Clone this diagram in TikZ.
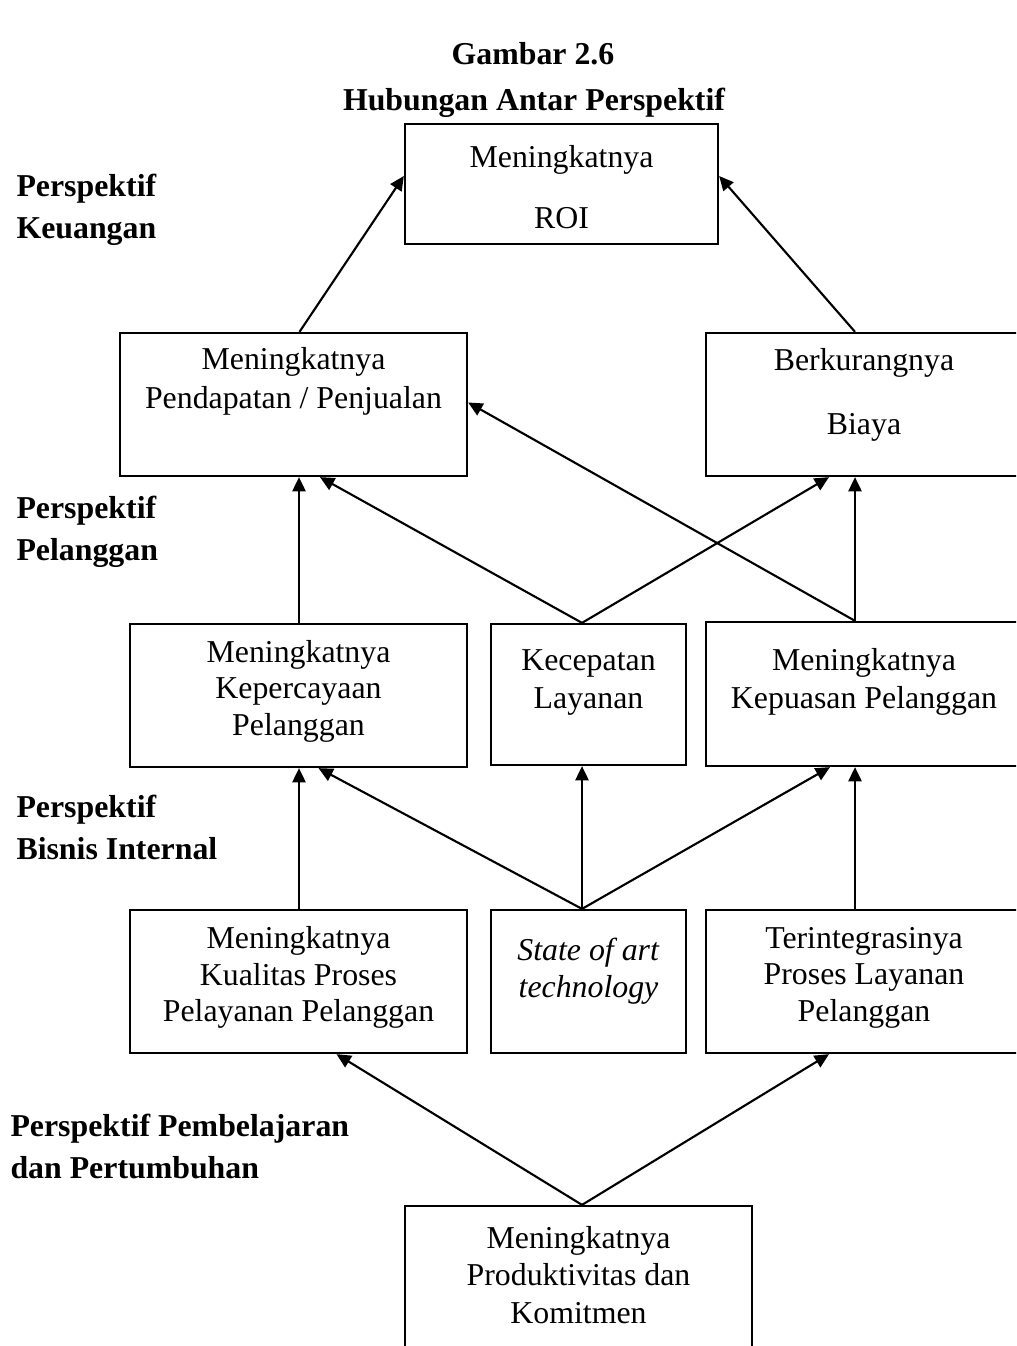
\documentclass[tikz,border=0pt]{standalone}
\usepackage{fontspec}
\setmainfont{Liberation Serif}
\usetikzlibrary{arrows.meta,calc}

\begin{document}
\begin{tikzpicture}[x=0.377pt,y=-0.377pt]
    \tikzset{%
      kotak/.style 2 args={draw, line width=0.85pt, inner sep=0pt,
        minimum width=#1*0.377pt, minimum height=#2*0.377pt},
      teks/.style={align=center, inner sep=0pt,
        font=\fontsize{12}{13.8}\selectfont},
      renggang/.style={align=center, inner sep=0pt,
        font=\fontsize{12}{#1}\selectfont},
      judul/.style={inner sep=0pt, font=\bfseries\fontsize{12}{14}\selectfont},
      persp/.style={anchor=west, align=left, inner sep=0pt,
        font=\bfseries\fontsize{12}{15.8}\selectfont},
      panah/.style={-{Triangle[length=5.4pt,width=5pt]}, line width=0.8pt},
    }
    \useasboundingbox (0,0) rectangle (1016,1346);
    \clip (0,0) rectangle (1016,1346);

    % judul
    \node[judul] (gambar) at (533,54) {Gambar 2.6};
    \node[judul] (hubungan) at (534,103) {Hubungan Antar Perspektif};

    % perspektif di kiri
    \node[persp] (keuangan) at (16,210) {Perspektif\\Keuangan};
    \node[persp] (pelanggan) at (16,532) {Perspektif\\Pelanggan};
    \node[persp] (bisnis) at (16,827.5) {Perspektif\\Bisnis Internal};
    \node[persp] (belajar) at (10,1146.5) {Perspektif Pembelajaran\\dan Pertumbuhan};

    % keuangan
    \node[kotak={313}{120}] (roi) at (561.5,184) {};
    \node[renggang=23] (roiT) at (561.5,187.5) {Meningkatnya\\ROI};
    \node[kotak={347}{143}] (pendapatan) at (293.5,404.5) {};
    \node[renggang=14.7] (pendapatanT) at (293.5,381.5) {Meningkatnya\\Pendapatan / Penjualan};
    \node[kotak={316}{143}] (biaya) at (864,404.5) {};
    \node[renggang=24] (biayaT) at (864,395) {Berkurangnya\\Biaya};

    % pelanggan
    \node[kotak={337}{143}] (percaya) at (298.5,695.5) {};
    \node[teks] (percayaT) at (298.5,691) {Meningkatnya\\Kepercayaan\\Pelanggan};
    \node[kotak={195}{141}] (cepat) at (588.5,694.5) {};
    \node[renggang=14] (cepatT) at (588.5,682.5) {Kecepatan\\Layanan};
    \node[kotak={316}{144}] (puas) at (864,694) {};
    \node[renggang=14.3] (puasT) at (864,682) {Meningkatnya\\Kepuasan Pelanggan};

    % bisnis internal
    \node[kotak={337}{143}] (kualitas) at (298.5,981.5) {};
    \node[teks] (kualitasT) at (298.5,977.5) {Meningkatnya\\Kualitas Proses\\Pelayanan Pelanggan};
    \node[kotak={195}{143}] (sota) at (588.5,981.5) {};
    \node[teks] (sotaT) at (588.5,971) {\textit{State of art}\\\textit{technology}};
    \node[kotak={316}{143}] (integrasi) at (864,981.5) {};
    \node[teks] (integrasiT) at (864,977.5) {Terintegrasinya\\Proses Layanan\\Pelanggan};

    % pembelajaran
    \node[kotak={347}{154}] (produktif) at (578.5,1283) {};
    \node[renggang=14] (produktifT) at (578.5,1275) {Meningkatnya\\Produktivitas dan\\Komitmen};

    % panah
    \draw[panah] ($(pendapatan.north)+(6,0)$) -- ($(roi.west)+(0,-8)$);
    \draw[panah] ($(biaya.north)+(-9,0)$) -- ($(roi.east)+(0,-8)$);

    \draw[panah] ($(percaya.north)+(0.5,0)$) -- ($(percaya.north |- pendapatan.south)+(0.5,0)$);
    \draw[panah] ($(cepat.north)+(-6.5,0)$) -- ($(pendapatan.south)+(26.5,0)$);
    \draw[panah] ($(cepat.north)+(-6.5,0)$) -- ($(biaya.south)+(-35,0)$);
    \draw[panah] ($(puas.north)+(-9,0)$) -- ($(biaya.south)+(-9,0)$);
    \draw[panah] ($(puas.north)+(-9,0)$) -- ($(pendapatan.east)+(0,-2)$);

    \draw[panah] ($(kualitas.north)+(0.5,0)$) -- ($(percaya.south)+(0.5,0)$);
    \draw[panah] ($(sota.north)+(-6.5,0)$) -- ($(percaya.south)+(20,0)$);
    \draw[panah] ($(sota.north)+(-6.5,0)$) -- ($(cepat.south)+(-6.5,0)$);
    \draw[panah] ($(sota.north)+(-6.5,0)$) -- ($(puas.south)+(-34,0)$);
    \draw[panah] ($(integrasi.north)+(-9,0)$) -- ($(puas.south)+(-9,0)$);

    \draw[panah] ($(produktif.north)+(3.5,0)$) -- ($(kualitas.south)+(38,0)$);
    \draw[panah] ($(produktif.north)+(3.5,0)$) -- ($(integrasi.south)+(-35,0)$);
  \end{tikzpicture}
\end{document}
